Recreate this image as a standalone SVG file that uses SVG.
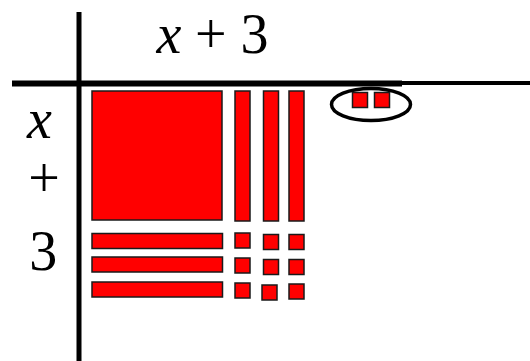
<svg xmlns="http://www.w3.org/2000/svg" width="530" height="361" viewBox="0 0 530 361">
<style>
.t{fill:#FF0000;stroke:#1a1a1a;stroke-width:1.5}
.ax{stroke:#000;fill:none}
.lbl{font-family:'Liberation Serif','Times New Roman',Times,serif;font-size:56px;fill:#000}
</style>
<rect width="530" height="361" fill="#fff"/>
<g id="axes">
<line class="ax" x1="79" y1="12" x2="79" y2="361" stroke-width="5"/>
<line class="ax" x1="12" y1="83.5" x2="402" y2="83.5" stroke-width="6"/>
<line class="ax" x1="400" y1="83" x2="530" y2="83" stroke-width="4"/>
</g>
<g id="top-label"><text class="lbl" y="53"><tspan x="156.5" font-style="italic">x</tspan><tspan x="195">+</tspan><tspan x="240.6">3</tspan></text></g>
<g id="side-label">
<text class="lbl" x="27" y="138" font-style="italic">x</text>
<text class="lbl" x="28.3" y="197">+</text>
<text class="lbl" x="29.3" y="270">3</text>
</g>
<g id="x-squared"><rect class="t" x="92" y="91" width="130" height="129"/></g>
<g id="x-bars-vertical">
<rect class="t" x="235" y="91" width="15" height="130"/>
<rect class="t" x="263.5" y="91" width="15" height="130"/>
<rect class="t" x="289" y="91" width="15" height="130"/>
</g>
<g id="x-bars-horizontal">
<rect class="t" x="92" y="233.5" width="130.5" height="15"/>
<rect class="t" x="92" y="257" width="130.5" height="15"/>
<rect class="t" x="92" y="282" width="130.5" height="15"/>
</g>
<g id="units">
<rect class="t" x="235" y="233" width="15" height="15"/>
<rect class="t" x="263.5" y="234.5" width="15" height="15"/>
<rect class="t" x="289" y="234.5" width="15" height="15"/>
<rect class="t" x="235" y="258" width="15" height="15"/>
<rect class="t" x="263.5" y="259.5" width="15" height="15"/>
<rect class="t" x="289" y="259.5" width="15" height="15"/>
<rect class="t" x="235" y="283" width="15" height="15"/>
<rect class="t" x="262" y="285" width="15" height="15"/>
<rect class="t" x="289" y="284" width="15" height="15"/>
</g>
<g id="circled-units">
<ellipse cx="371" cy="104.5" rx="39.5" ry="16" fill="none" stroke="#000" stroke-width="3.5"/>
<rect class="t" x="352.5" y="92.5" width="15" height="15"/>
<rect class="t" x="374.5" y="92.5" width="15" height="15"/>
</g>
</svg>
